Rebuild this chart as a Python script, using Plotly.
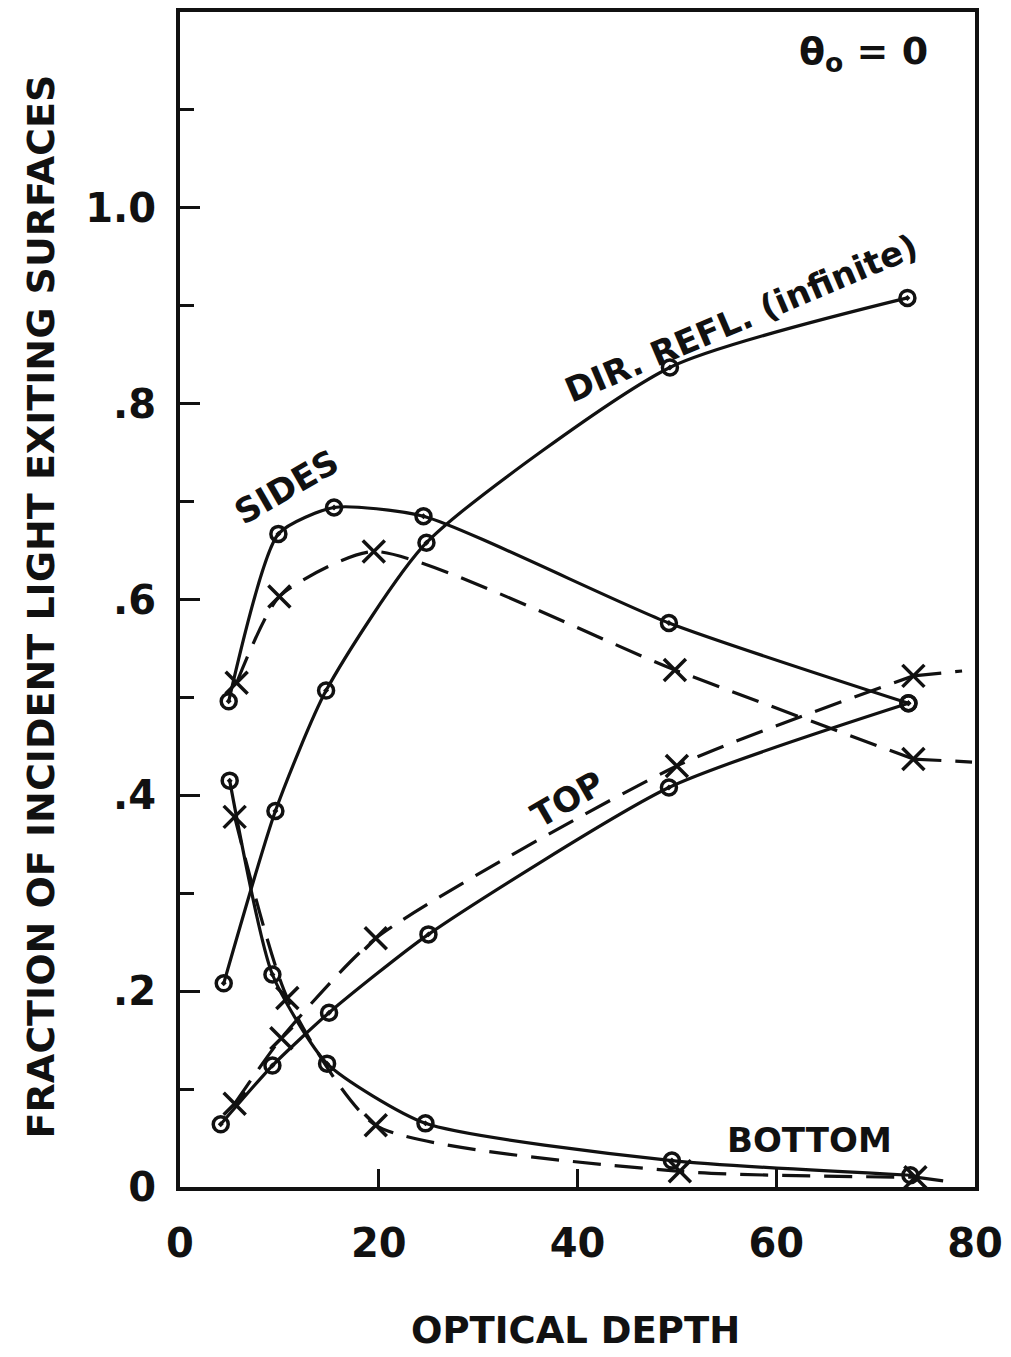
import plotly.graph_objects as go

# Fraction of incident light leaving each face of a cubic cloud vs optical depth.
# Solid lines with circles: building block model; dashed lines with crosses: comparison model.

# Directly reflected light, semi-infinite medium
dir_x = [4.4, 9.6, 14.7, 24.8, 49.3, 73.2]
dir_y = [0.208, 0.384, 0.507, 0.658, 0.837, 0.908]

# Sides
sides_solid_x = [4.9, 9.9, 15.5, 24.5, 49.2, 73.3]
sides_solid_y = [0.496, 0.667, 0.694, 0.685, 0.576, 0.494]
sides_dash_x = [5.7, 10.0, 19.5, 49.8, 73.8]
sides_dash_y = [0.515, 0.603, 0.649, 0.528, 0.437]
sides_dash_tail_x = [79.7]
sides_dash_tail_y = [0.434]

# Top
top_solid_x = [4.1, 9.3, 15.0, 25.0, 49.2, 73.3]
top_solid_y = [0.064, 0.124, 0.178, 0.258, 0.408, 0.494]
top_dash_x = [5.5, 10.2, 19.7, 50.0, 73.8]
top_dash_y = [0.085, 0.152, 0.254, 0.430, 0.522]
top_dash_tail_x = [78.7]
top_dash_tail_y = [0.527]

# Bottom
bottom_solid_x = [5.0, 9.3, 14.8, 24.7, 49.5, 73.5]
bottom_solid_y = [0.415, 0.217, 0.126, 0.065, 0.027, 0.012]
bottom_dash_x = [5.5, 10.8, 19.7, 50.3, 74.0]
bottom_dash_y = [0.378, 0.193, 0.063, 0.016, 0.010]
bottom_dash_tail_x = [77.0]
bottom_dash_tail_y = [0.006]

x_ticks = [0, 20, 40, 60, 80]
x_ticklabels = ["0", "20", "40", "60", "80"]
y_ticks = [0, 0.2, 0.4, 0.6, 0.8, 1.0]
y_ticklabels = ["0", ".2", ".4", ".6", ".8", "1.0"]

INK = "#111111"
FONT = "DejaVu Sans"
DASH = "28px,14px"

circle_marker = dict(symbol="circle-open-dot", size=15, color=INK,
                     line=dict(color=INK, width=3.5))
cross_marker = dict(symbol="x-thin", size=22, color=INK,
                    line=dict(color=INK, width=3.5))

fig = go.Figure()


def solid(xs, ys):
    fig.add_trace(go.Scatter(
        x=xs, y=ys, mode="lines+markers",
        line=dict(color=INK, width=3.2, shape="spline", smoothing=0.6),
        marker=circle_marker, showlegend=False, hoverinfo="skip"))


def dashed(xs, ys, tail_x, tail_y):
    fig.add_trace(go.Scatter(
        x=xs, y=ys, mode="lines+markers",
        line=dict(color=INK, width=3.2, dash=DASH, shape="spline", smoothing=0.6),
        marker=cross_marker, showlegend=False, hoverinfo="skip"))
    fig.add_trace(go.Scatter(
        x=[xs[-1]] + tail_x, y=[ys[-1]] + tail_y, mode="lines",
        line=dict(color=INK, width=3.2, dash=DASH),
        showlegend=False, hoverinfo="skip"))


solid(dir_x, dir_y)
solid(sides_solid_x, sides_solid_y)
dashed(sides_dash_x, sides_dash_y, sides_dash_tail_x, sides_dash_tail_y)
solid(top_solid_x, top_solid_y)
dashed(top_dash_x, top_dash_y, top_dash_tail_x, top_dash_tail_y)
solid(bottom_solid_x, bottom_solid_y)
dashed(bottom_dash_x, bottom_dash_y, bottom_dash_tail_x, bottom_dash_tail_y)

label_font = dict(family=FONT, size=34, color=INK)
curve_labels = [
    ("SIDES", 10.7, 0.715, -30),
    ("DIR. REFL. (infinite)", 56.5, 0.887, -23),
    ("TOP", 39.0, 0.396, -30),
    ("BOTTOM", 63.3, 0.048, 0),
]
for text, x, y, ang in curve_labels:
    fig.add_annotation(text="<b>%s</b>" % text, x=x, y=y, xref="x", yref="y",
                       showarrow=False, textangle=ang, font=label_font)

fig.add_annotation(text="<b>θ<sub>o</sub> = 0</b>", x=68.8, y=1.158, xref="x", yref="y",
                   showarrow=False, font=dict(family=FONT, size=38, color=INK))

fig.add_annotation(text="<b>FRACTION OF INCIDENT LIGHT EXITING SURFACES</b>",
                   x=-0.175, y=0.494, xref="paper", yref="paper", textangle=-90,
                   xanchor="center", yanchor="middle",
                   showarrow=False, font=dict(family=FONT, size=38, color=INK))
fig.add_annotation(text="<b>OPTICAL DEPTH</b>",
                   x=0.4975, y=-0.122, xref="paper", yref="paper",
                   xanchor="center", yanchor="middle",
                   showarrow=False, font=dict(family=FONT, size=37, color=INK))

tick_font = dict(family=FONT, size=40, color=INK, weight="bold")
fig.update_xaxes(
    range=[0, 80], tickvals=x_ticks, ticktext=x_ticklabels,
    ticks="inside", ticklen=18, tickwidth=3, tickcolor=INK,
    showline=True, linewidth=4, linecolor=INK, mirror=True,
    showgrid=False, zeroline=False, tickfont=tick_font,
    ticklabelstandoff=18,
)
fig.update_yaxes(
    range=[0, 1.2], tickvals=y_ticks, ticktext=y_ticklabels,
    ticks="inside", ticklen=20, tickwidth=3, tickcolor=INK,
    minor=dict(tickvals=[0.1, 0.3, 0.5, 0.7, 0.9, 1.1], ticks="inside",
               ticklen=14, tickwidth=3, tickcolor=INK),
    showline=True, linewidth=4, linecolor=INK, mirror=True,
    showgrid=False, zeroline=False, tickfont=tick_font,
    ticklabelstandoff=12,
)

fig.update_layout(
    width=1011, height=1357,
    margin=dict(l=180, r=31, t=8, b=170),
    paper_bgcolor="white", plot_bgcolor="white",
    font=dict(family=FONT, color=INK),
)

fig.write_html("out.html")
